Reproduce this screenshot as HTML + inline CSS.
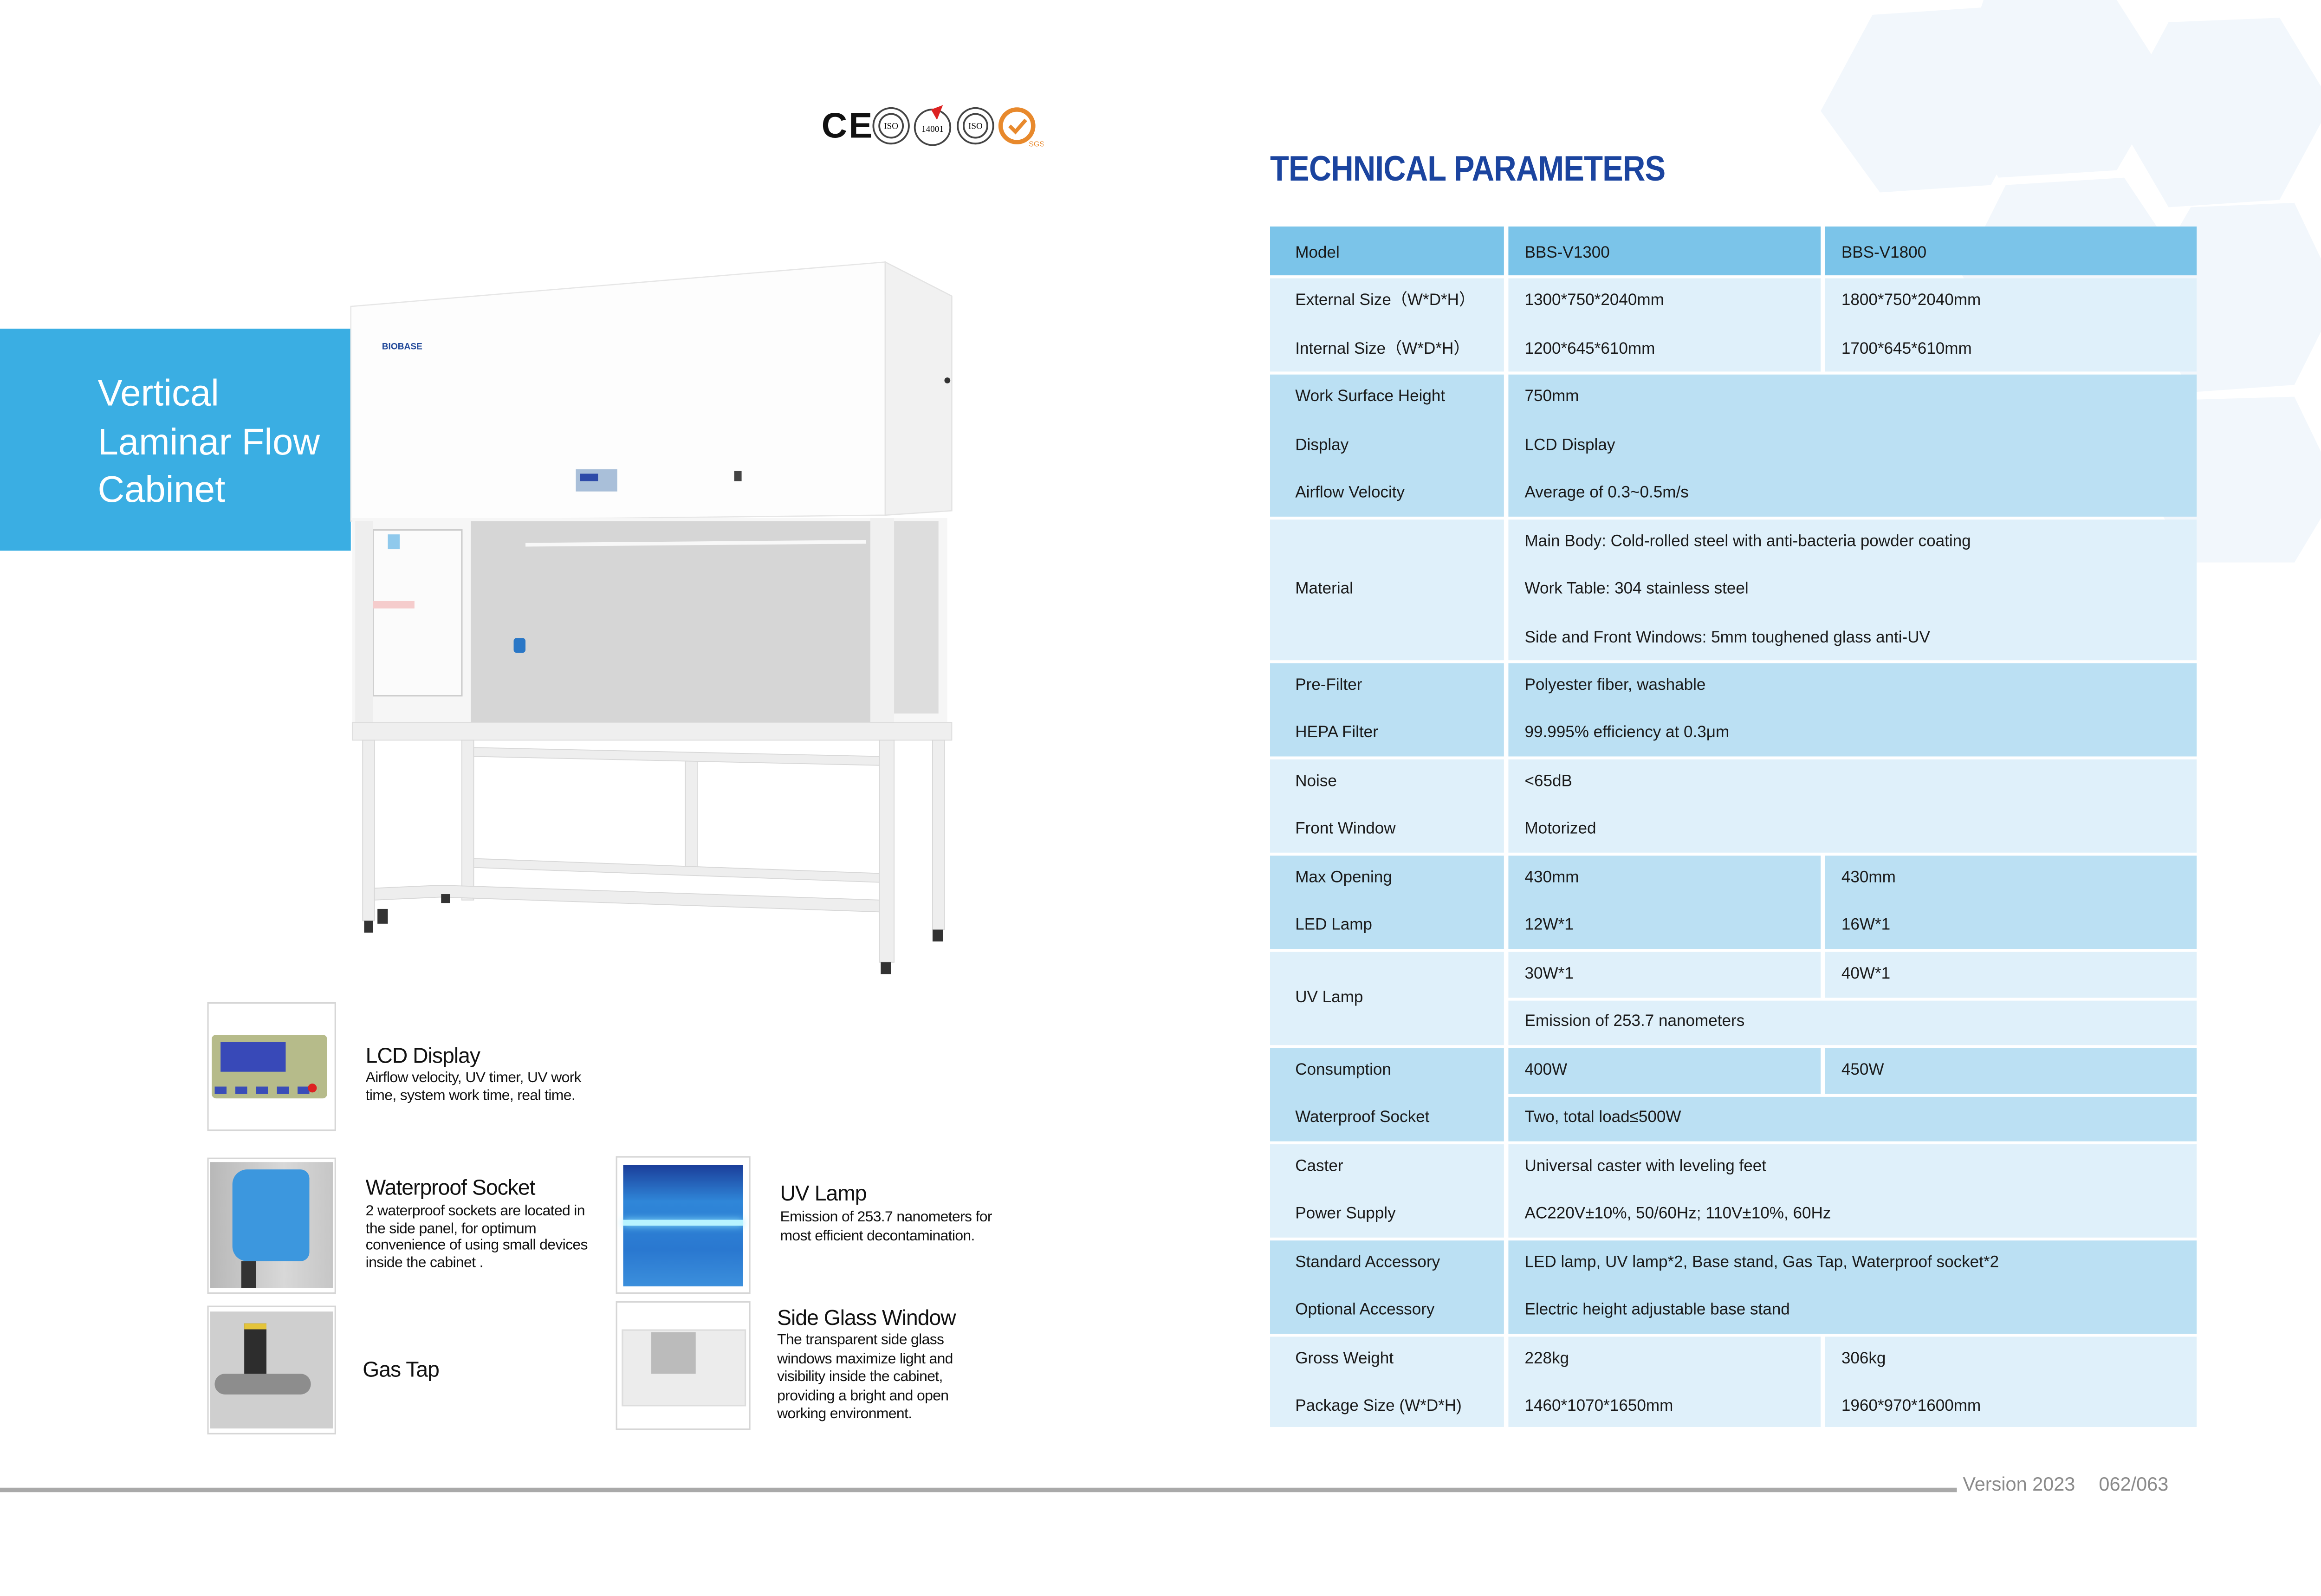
<!DOCTYPE html>
<html><head><meta charset="utf-8"><style>
html,body{margin:0;padding:0;background:#fff;}
body{width:5032px;height:3438px;overflow:hidden;position:relative;}
#s{position:absolute;left:0;top:0;width:1578px;height:1078px;transform:scale(3.1888);transform-origin:0 0;font-family:"Liberation Sans",Arial,sans-serif;color:#111;}
.a{position:absolute;}
.c{position:absolute;}
.t{position:absolute;font-size:11px;line-height:12px;white-space:nowrap;color:#1a1a1a;}
.d{background:#7bc4e9;}
.m{background:#bbe0f3;}
.l{background:#dff0fa;}
.ft{position:absolute;font-size:14.5px;line-height:16px;white-space:nowrap;color:#111;letter-spacing:-0.3px;}
.fd{position:absolute;font-size:10px;line-height:12px;color:#111;letter-spacing:-0.2px;}
.th{position:absolute;background:#fff;border:1px solid #d6d6d6;box-sizing:border-box;}
</style></head><body><div id="s">

<!-- hexagon background -->
<svg class="a" style="left:1180px;top:0" width="398" height="380" viewBox="0 0 398 380">
<g fill="#f2f7fc">
<polygon points="85,10 160,5 200,60 165,125 90,130 50,75"/>
<polygon points="160,0 250,0 285,55 250,115 170,120 140,60"/>
<polygon points="285,15 360,12 395,70 360,135 285,140 250,80"/>
<polygon points="175,125 255,120 295,180 260,245 180,245 145,185"/>
<polygon points="300,140 370,137 400,200 370,260 300,265 265,200"/>
<polygon points="300,270 370,268 400,330 370,380 300,380 270,330"/>
</g></svg>

<!-- certification marks -->
<div class="a" style="left:555px;top:72px;font-size:24px;font-weight:bold;line-height:28px;color:#111;letter-spacing:1px;">CE</div>
<svg class="a" style="left:589px;top:71px" width="116" height="30" viewBox="0 0 116 30">
<g fill="none" stroke="#444" stroke-width="1.2"><circle cx="13" cy="14" r="12"/><circle cx="13" cy="14" r="8"/><circle cx="41" cy="15" r="12"/><circle cx="70" cy="14" r="12"/><circle cx="70" cy="14" r="8"/></g>
<path d="M40 3 L48 0 L44 10 Z" fill="#d22"/>
<text x="13" y="16" font-size="6" text-anchor="middle" font-family="Liberation Serif">ISO</text>
<text x="41" y="18" font-size="6" text-anchor="middle" font-family="Liberation Serif">14001</text>
<text x="70" y="16" font-size="6" text-anchor="middle" font-family="Liberation Serif">ISO</text>
<circle cx="98" cy="14" r="11" fill="none" stroke="#e8892c" stroke-width="3"/>
<path d="M93 14 l4 4 l7 -8" stroke="#e8892c" stroke-width="2.5" fill="none"/>
<text x="106" y="28" font-size="5" fill="#e8892c">SGS</text>
</svg>

<!-- blue title box -->
<div class="a" style="left:0;top:222px;width:237px;height:150px;background:#3aaee3;"></div>
<div class="a" style="left:66px;top:250px;color:#fff;font-size:25px;line-height:32.5px;">Vertical<br>Laminar Flow<br>Cabinet</div>

<!-- cabinet -->
<svg class="a" style="left:230px;top:170px" width="420" height="495" viewBox="230 170 420 495">
<polygon points="237,207 598,177 643,200 643,345 237,350" fill="#fafafa"/>
<polygon points="237,207 598,177 598,348 237,352" fill="#fdfdfd" stroke="#e6e6e6" stroke-width="0.8"/>
<polygon points="598,177 643,200 643,345 598,348" fill="#f1f1f1" stroke="#e3e3e3" stroke-width="0.8"/>
<text x="258" y="236" font-size="6" font-weight="bold" fill="#234a9a" font-family="Liberation Sans">BIOBASE</text>
<rect x="389" y="317" width="28" height="15" fill="#a9bfd9"/><rect x="392" y="320" width="12" height="5" fill="#2d4aa8"/>
<rect x="496" y="318" width="5" height="7" fill="#444"/>
<circle cx="640" cy="257" r="2" fill="#333"/>
<rect x="238" y="350" width="402" height="140" fill="#f6f6f6"/>
<rect x="318" y="352" width="270" height="136" fill="#d6d6d6"/>
<rect x="252" y="358" width="60" height="112" fill="#fbfbfb" stroke="#ccc" stroke-width="1"/>
<rect x="240" y="352" width="12" height="138" fill="#eeeeee"/>
<rect x="588" y="350" width="16" height="140" fill="#f0f0f0"/>
<rect x="604" y="352" width="30" height="130" fill="#dddddd"/>
<line x1="355" y1="368" x2="585" y2="366" stroke="#f8f8f8" stroke-width="2.5"/>
<rect x="347" y="431" width="8" height="10" rx="2" fill="#2a77c6"/>
<rect x="262" y="361" width="8" height="10" fill="#8fc9ec"/>
<rect x="252" y="406" width="28" height="5" fill="#f5cccc"/>
<rect x="238" y="488" width="405" height="12" fill="#efefef" stroke="#ddd" stroke-width="0.6"/>
<g fill="#eeeeee" stroke="#d8d8d8" stroke-width="0.6">
<rect x="245" y="500" width="8" height="122"/><rect x="312" y="500" width="8" height="108"/>
<rect x="594" y="500" width="10" height="150"/><rect x="630" y="500" width="8" height="128"/>
<rect x="463" y="510" width="8" height="78"/>
<polygon points="320,505 594,511 594,517 320,511"/>
<polygon points="320,580 594,590 594,596 320,586"/>
<polygon points="253,600 298,598 594,608 594,616 298,606 253,608"/>
</g>
<g fill="#333"><rect x="246" y="622" width="6" height="8"/><rect x="595" y="650" width="7" height="8"/><rect x="630" y="628" width="7" height="8"/><rect x="255" y="614" width="7" height="10"/><rect x="298" y="604" width="6" height="6"/></g>
</svg>

<!-- feature thumbnails -->
<div class="th" style="left:140px;top:677px;width:87px;height:87px;"></div>
<div class="a" style="left:143px;top:699px;width:78px;height:43px;background:#b6bb8a;border-radius:3px;"></div>
<div class="a" style="left:149px;top:704px;width:44px;height:20px;background:#3849b8;"></div>
<div class="a" style="left:145px;top:734px;width:70px;height:5px;background:repeating-linear-gradient(90deg,#3a4db8 0 8px,transparent 8px 14px);"></div>
<div class="a" style="left:208px;top:732px;width:6px;height:6px;border-radius:3px;background:#d22;"></div>
<div class="ft" style="left:247px;top:706px;">LCD Display</div>
<div class="fd" style="left:247px;top:723px;width:150px;">Airflow velocity, UV timer, UV work time, system work time, real time.</div>

<div class="th" style="left:140px;top:782px;width:87px;height:92px;"></div>
<div class="a" style="left:142px;top:785px;width:83px;height:85px;background:linear-gradient(90deg,#b8b8b8,#d8d8d8 60%,#c6c6c6);"></div>
<div class="a" style="left:157px;top:790px;width:52px;height:62px;background:#3c97de;border-radius:10px 6px 6px 10px;"></div>
<div class="a" style="left:163px;top:852px;width:10px;height:18px;background:#333;"></div>
<div class="ft" style="left:247px;top:795px;">Waterproof Socket</div>
<div class="fd" style="left:247px;top:813px;width:158px;line-height:11.5px;">2 waterproof sockets are located in the side panel, for optimum convenience of using small devices inside the cabinet .</div>

<div class="th" style="left:140px;top:882px;width:87px;height:87px;"></div>
<div class="a" style="left:142px;top:886px;width:83px;height:79px;background:#cfcfcf;"></div>
<div class="a" style="left:165px;top:894px;width:15px;height:40px;background:#2d2d2d;border-top:4px solid #e4c43a;"></div>
<div class="a" style="left:145px;top:928px;width:65px;height:14px;background:#8d8d8d;border-radius:7px;"></div>
<div class="ft" style="left:245px;top:918px;">Gas Tap</div>

<div class="th" style="left:416px;top:781px;width:91px;height:93px;"></div>
<div class="a" style="left:421px;top:787px;width:81px;height:82px;background:linear-gradient(180deg,#1b3e9a 0%,#2f86d8 30%,#2a78d0 70%,#3b8fdc 100%);"></div>
<div class="a" style="left:421px;top:824px;width:81px;height:4px;background:#b8f4ff;box-shadow:0 0 5px #8de6ff;"></div>
<div class="ft" style="left:527px;top:799px;">UV Lamp</div>
<div class="fd" style="left:527px;top:817px;width:160px;line-height:12.5px;">Emission of 253.7 nanometers for most efficient decontamination.</div>

<div class="th" style="left:416px;top:879px;width:91px;height:87px;"></div>
<div class="a" style="left:420px;top:898px;width:82px;height:50px;background:#ececec;border:1px solid #ddd;"></div>
<div class="a" style="left:440px;top:900px;width:30px;height:28px;background:#bbbbbb;"></div>
<div class="ft" style="left:525px;top:883px;">Side Glass Window</div>
<div class="fd" style="left:525px;top:900px;width:130px;line-height:12.5px;">The transparent side glass windows maximize light and visibility inside the cabinet, providing a bright and open working environment.</div>

<!-- title -->
<div class="a" style="left:858px;top:101px;font-size:24px;line-height:28px;font-weight:bold;color:#1b449f;white-space:nowrap;transform:scaleX(0.875);transform-origin:0 0;letter-spacing:-0.3px;">TECHNICAL PARAMETERS</div>

<!-- table -->
<div class="c d" style="left:858px;top:153px;width:158px;height:33px;"></div>
<div class="c d" style="left:1019px;top:153px;width:211px;height:33px;"></div>
<div class="c d" style="left:1233px;top:153px;width:251px;height:33px;"></div>

<div class="c l" style="left:858px;top:188px;width:158px;height:63px;"></div>
<div class="c l" style="left:1019px;top:188px;width:211px;height:63px;"></div>
<div class="c l" style="left:1233px;top:188px;width:251px;height:63px;"></div>

<div class="c m" style="left:858px;top:253px;width:158px;height:96px;"></div>
<div class="c m" style="left:1019px;top:253px;width:465px;height:96px;"></div>

<div class="c l" style="left:858px;top:351px;width:158px;height:95px;"></div>
<div class="c l" style="left:1019px;top:351px;width:465px;height:95px;"></div>

<div class="c m" style="left:858px;top:448px;width:158px;height:63px;"></div>
<div class="c m" style="left:1019px;top:448px;width:465px;height:63px;"></div>

<div class="c l" style="left:858px;top:513px;width:158px;height:63px;"></div>
<div class="c l" style="left:1019px;top:513px;width:465px;height:63px;"></div>

<div class="c m" style="left:858px;top:578px;width:158px;height:63px;"></div>
<div class="c m" style="left:1019px;top:578px;width:211px;height:63px;"></div>
<div class="c m" style="left:1233px;top:578px;width:251px;height:63px;"></div>

<div class="c l" style="left:858px;top:643px;width:158px;height:63px;"></div>
<div class="c l" style="left:1019px;top:643px;width:211px;height:31px;"></div>
<div class="c l" style="left:1233px;top:643px;width:251px;height:31px;"></div>
<div class="c l" style="left:1019px;top:676px;width:465px;height:30px;"></div>

<div class="c m" style="left:858px;top:708px;width:158px;height:63px;"></div>
<div class="c m" style="left:1019px;top:708px;width:211px;height:31px;"></div>
<div class="c m" style="left:1233px;top:708px;width:251px;height:31px;"></div>
<div class="c m" style="left:1019px;top:741px;width:465px;height:30px;"></div>

<div class="c l" style="left:858px;top:773px;width:158px;height:63px;"></div>
<div class="c l" style="left:1019px;top:773px;width:465px;height:63px;"></div>

<div class="c m" style="left:858px;top:838px;width:158px;height:63px;"></div>
<div class="c m" style="left:1019px;top:838px;width:465px;height:63px;"></div>

<div class="c l" style="left:858px;top:903px;width:158px;height:61px;"></div>
<div class="c l" style="left:1019px;top:903px;width:211px;height:61px;"></div>
<div class="c l" style="left:1233px;top:903px;width:251px;height:61px;"></div>

<!-- table text -->
<div class="t" style="left:875px;top:165px;">Model</div><div class="t" style="left:1030px;top:165px;">BBS-V1300</div><div class="t" style="left:1244px;top:165px;">BBS-V1800</div>
<div class="t" style="left:875px;top:197px;">External Size（W*D*H）</div><div class="t" style="left:1030px;top:197px;">1300*750*2040mm</div><div class="t" style="left:1244px;top:197px;">1800*750*2040mm</div>
<div class="t" style="left:875px;top:230px;">Internal Size（W*D*H）</div><div class="t" style="left:1030px;top:230px;">1200*645*610mm</div><div class="t" style="left:1244px;top:230px;">1700*645*610mm</div>
<div class="t" style="left:875px;top:262px;">Work Surface Height</div><div class="t" style="left:1030px;top:262px;">750mm</div>
<div class="t" style="left:875px;top:295px;">Display</div><div class="t" style="left:1030px;top:295px;">LCD Display</div>
<div class="t" style="left:875px;top:327px;">Airflow Velocity</div><div class="t" style="left:1030px;top:327px;">Average of 0.3~0.5m/s</div>
<div class="t" style="left:1030px;top:360px;">Main Body: Cold-rolled steel with anti-bacteria powder coating</div>
<div class="t" style="left:875px;top:392px;">Material</div><div class="t" style="left:1030px;top:392px;">Work Table: 304 stainless steel</div>
<div class="t" style="left:1030px;top:425px;">Side and Front Windows: 5mm toughened glass anti-UV</div>
<div class="t" style="left:875px;top:457px;">Pre-Filter</div><div class="t" style="left:1030px;top:457px;">Polyester fiber, washable</div>
<div class="t" style="left:875px;top:489px;">HEPA Filter</div><div class="t" style="left:1030px;top:489px;">99.995% efficiency at 0.3μm</div>
<div class="t" style="left:875px;top:522px;">Noise</div><div class="t" style="left:1030px;top:522px;">&lt;65dB</div>
<div class="t" style="left:875px;top:554px;">Front Window</div><div class="t" style="left:1030px;top:554px;">Motorized</div>
<div class="t" style="left:875px;top:587px;">Max Opening</div><div class="t" style="left:1030px;top:587px;">430mm</div><div class="t" style="left:1244px;top:587px;">430mm</div>
<div class="t" style="left:875px;top:619px;">LED Lamp</div><div class="t" style="left:1030px;top:619px;">12W*1</div><div class="t" style="left:1244px;top:619px;">16W*1</div>
<div class="t" style="left:1030px;top:652px;">30W*1</div><div class="t" style="left:1244px;top:652px;">40W*1</div>
<div class="t" style="left:875px;top:668px;">UV Lamp</div>
<div class="t" style="left:1030px;top:684px;">Emission of 253.7 nanometers</div>
<div class="t" style="left:875px;top:717px;">Consumption</div><div class="t" style="left:1030px;top:717px;">400W</div><div class="t" style="left:1244px;top:717px;">450W</div>
<div class="t" style="left:875px;top:749px;">Waterproof Socket</div><div class="t" style="left:1030px;top:749px;">Two, total load≤500W</div>
<div class="t" style="left:875px;top:782px;">Caster</div><div class="t" style="left:1030px;top:782px;">Universal caster with leveling feet</div>
<div class="t" style="left:875px;top:814px;">Power Supply</div><div class="t" style="left:1030px;top:814px;">AC220V±10%, 50/60Hz; 110V±10%, 60Hz</div>
<div class="t" style="left:875px;top:847px;">Standard Accessory</div><div class="t" style="left:1030px;top:847px;">LED lamp, UV lamp*2, Base stand, Gas Tap, Waterproof socket*2</div>
<div class="t" style="left:875px;top:879px;">Optional Accessory</div><div class="t" style="left:1030px;top:879px;">Electric height adjustable base stand</div>
<div class="t" style="left:875px;top:912px;">Gross Weight</div><div class="t" style="left:1030px;top:912px;">228kg</div><div class="t" style="left:1244px;top:912px;">306kg</div>
<div class="t" style="left:875px;top:944px;">Package Size (W*D*H)</div><div class="t" style="left:1030px;top:944px;">1460*1070*1650mm</div><div class="t" style="left:1244px;top:944px;">1960*970*1600mm</div>

<!-- footer -->
<div class="a" style="left:0;top:1005px;width:1322px;height:3px;background:#a9a9a9;"></div>
<div class="a" style="left:1326px;top:995px;font-size:13px;line-height:15px;color:#8a8a8a;white-space:nowrap;">Version 2023<span style="display:inline-block;width:16px"></span>062/063</div>

</div></body></html>
